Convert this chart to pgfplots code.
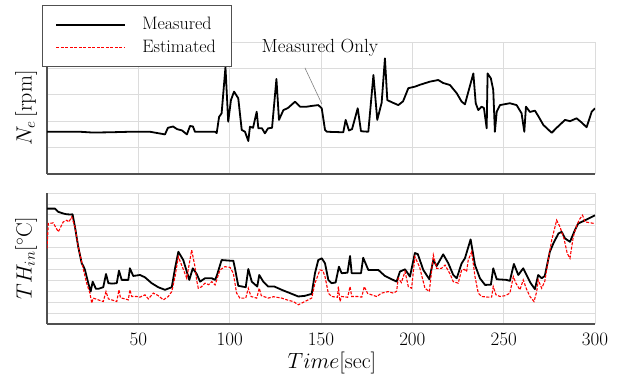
\RequirePackage{fix-cm}
\documentclass[border=0pt]{standalone}
\usepackage{fontspec}
\usepackage{pgfplots}
\pgfplotsset{compat=1.18}
\definecolor{axgray}{RGB}{80,80,80}
\definecolor{grd}{RGB}{220,220,220}
\begin{document}
\fontsize{18}{21}\selectfont
\begin{tikzpicture}[x=1pt,y=1pt]
\path (0,0) rectangle (622,372);
\pgfplotsset{
  myax/.style={
    scale only axis, width=548pt, xmin=0, xmax=300,
    axis x line=bottom, axis y line=left,
    axis line style={-, draw=axgray, line width=1.3pt},
    xtick={50,100,...,300},
    grid=major, major grid style={draw=grd, line width=0.8pt},
    major tick length=0pt,
    yticklabels={},
    clip mode=individual,
    every tick label/.append style={font=\fontsize{19}{21}\selectfont},
    every axis y label/.append style={font=\fontsize{22}{24}\selectfont},
    every axis x label/.append style={font=\fontsize{22}{24}\selectfont},
  },
  meas/.style={draw=black, line width=1.8pt, line join=round},
  est/.style={draw=red, line width=1.1pt, dash pattern=on 3pt off 1.5pt},
}
% top axis
\begin{axis}[myax, at={(47pt,198pt)}, anchor=south west, height=132pt,
  ymin=0, ymax=5, ytick={0,...,5}, xticklabels={},
  ylabel={$N_e$\,[rpm]},
  ylabel style={at={(axis description cs:-0.038,0.5)}, anchor=center},
  legend style={at={(-0.009,1.28)}, anchor=north west, draw=axgray, line width=0.8pt,
    fill=white, font=\fontsize{18}{21}\selectfont, inner xsep=13pt, inner ysep=10pt,
    row sep=3pt},
  legend cell align=left,
  legend image code/.code={\draw[#1] (0pt,0pt) -- (69pt,0pt);},
]
\addplot[meas] coordinates {
(0,1.6) (18.1,1.6) (25,1.57) (34.5,1.58) (45.4,1.6) (56.4,1.6) (64.6,1.5) (66.2,1.75) (69.0,1.8) (71.2,1.7) (73.9,1.65) (76.6,1.5) (78.3,1.82) (79.9,1.8) (81.0,1.6) (92.0,1.6) (92.9,1.55) (94.2,2.16) (95.6,2.3) (97.7,4.05) (99.2,1.98) (100.7,2.8) (102.4,3.12) (104.7,2.87) (106.6,1.67) (108.4,1.6) (110.2,1.25) (111.1,1.79) (112.8,1.75) (114.8,2.36) (115.7,1.73) (117.7,1.73) (119.3,1.54) (121.0,1.73) (123.2,1.75) (125.6,3.6) (127.0,2.05) (129.4,2.42) (131.9,2.5) (135.8,2.74) (138.5,2.55) (142.2,2.55) (145.1,2.58) (148.5,2.61) (150.4,2.49) (152.2,1.67) (153.3,1.6) (162.2,1.58) (163.5,2.05) (165.3,1.65) (167.0,1.7) (170.1,2.49) (171.9,1.62) (175.9,1.6) (178.7,3.75) (180.8,2.05) (183.2,2.7) (185.0,4.38) (186.3,2.80) (188.7,2.72) (192.3,2.61) (194.9,2.75) (197.8,3.25) (201.5,3.31) (204.2,3.38) (209.7,3.5) (214.2,3.56) (216.8,3.45) (220.6,3.37) (224.3,3.06) (227.0,2.74) (228.8,2.64) (233.4,3.81) (234.7,2.68) (236.1,2.42) (237.9,2.55) (239.2,2.5) (240.7,1.73) (241.2,3.81) (243.0,3.62) (244.3,3.18) (245.2,1.6) (246.2,2.36) (248.0,2.61) (253.4,2.68) (257.1,2.61) (259.8,2.3) (261.3,1.6) (262.2,2.55) (264.4,2.35) (267.1,2.4) (268.9,2.2) (271.7,1.86) (276.3,1.56) (279.0,1.75) (283.6,2.05) (286.3,2.0) (289.9,2.11) (292.7,1.95) (295.4,1.77) (298.2,2.36) (300,2.49)
};
\addlegendentry{\hspace*{14pt}Measured}
\addlegendimage{est}
\addlegendentry{\hspace*{14pt}Estimated}
\draw[gray, line width=0.6pt] (axis cs:141.2,4.02) -- (axis cs:150.5,2.65);
\node[font=\fontsize{19}{21}\selectfont] at (axis cs:149.4,4.78) {Measured Only};
\end{axis}
% bottom axis
\begin{axis}[myax, at={(47pt,48pt)}, anchor=south west, height=131pt,
  ymin=0, ymax=12, ytick={0,...,12},
  ylabel={$TH_{in}$[$^\circ$C]},
  ylabel style={at={(axis description cs:-0.038,0.5)}, anchor=center},
  xlabel={$Time$[sec]},
  xlabel style={at={(axis description cs:0.52,0)}, anchor=center, yshift=-39pt},
  xticklabel style={yshift=-3pt},
]
\addplot[meas] coordinates {
(0,10.57) (4.4,10.57) (6.2,10.27) (8.9,10.12) (10.8,10.05) (13.0,10.03) (14.0,10.05) (15.3,8.9) (17.1,7.07) (19.0,5.56) (19.9,5.31) (20.8,4.95) (22.6,3.74) (23.9,2.97) (25.0,3.88) (26.8,3.22) (28.1,3.22) (30.8,3.37) (32.3,4.58) (33.6,3.74) (35.6,3.7) (38.2,3.74) (39.4,4.89) (40.9,4.04) (44.5,4.04) (45.4,5.1) (47.2,4.4) (50.9,4.49) (53.6,4.28) (57.3,3.74) (60.9,3.37) (64.6,3.13) (68.3,3.37) (70.1,5.1) (71.9,6.62) (74.6,5.86) (77.9,4.04) (79.8,5.1) (81.9,4.6) (83.8,3.88) (86.5,4.19) (90.2,4.19) (92.0,4.04) (92.9,4.4) (95.6,5.86) (100.2,5.8) (102.0,5.8) (102.9,5.1) (104.7,3.5) (108.8,3.37) (110.2,5.04) (112.1,3.88) (115.1,3.43) (116.2,4.49) (118.4,3.88) (121.1,3.43) (124.5,3.43) (128.5,3.13) (133.0,2.83) (137.6,2.52) (141.2,2.58) (144.9,2.76) (146.7,4.65) (148.5,5.86) (150.4,6.02) (152.2,5.56) (154.0,4.04) (155.8,3.74) (158.0,3.8) (159.8,5.25) (161.3,4.65) (164.5,4.7) (165.9,6.23) (166.8,4.65) (171.9,4.65) (173.1,6.07) (175.9,4.95) (181.4,4.95) (185.0,4.4) (188.7,4.1) (191.4,3.88) (193.2,4.8) (196.0,5.01) (198.7,4.34) (201.4,6.5) (203.0,6.4) (206.0,4.95) (209.3,4.1) (211.5,5.86) (213.3,5.31) (216.9,6.38) (219.7,5.56) (222.4,4.49) (224.3,4.19) (227.0,5.56) (228.8,6.02) (231.9,7.75) (234.3,5.4) (237.0,4.19) (239.8,3.58) (243.0,3.6) (244.3,5.1) (246.2,4.1) (251.6,4.04) (253.4,3.95) (255.6,5.5) (258.0,4.49) (260.7,5.1) (262.5,4.5) (264.8,3.74) (267.1,3.19) (268.9,4.49) (270.8,4.19) (272.5,4.4) (275.3,6.62) (277.2,7.38) (280.0,8.3) (281.8,8.44) (283.6,7.84) (286.3,7.53) (289.0,8.6) (290.8,9.2) (295.4,9.57) (300,9.96)
};
\addplot[est] coordinates {
(0,6.93) (0.7,9.2) (3.4,9.26) (6.2,8.44) (8.9,9.35) (10.8,9.5) (12.0,9.35) (13.5,9.81) (15.3,8.9) (17.1,7.07) (19.0,5.7) (19.9,5.0) (21.7,3.74) (23.5,2.83) (24.5,1.91) (25.3,2.37) (28.1,2.21) (30.8,2.06) (32.3,2.97) (33.6,2.3) (35.6,2.2) (38.2,2.06) (39.4,3.13) (40.2,2.4) (42.7,2.3) (44.5,2.21) (45.4,3.13) (46.4,2.52) (49.0,2.52) (50.9,2.46) (53.6,2.67) (55.5,2.3) (58.2,2.83) (60.9,2.6) (63.7,2.21) (66.4,2.52) (68.3,2.97) (70.1,4.34) (71.9,6.16) (73.7,5.4) (76.5,4.19) (79.2,6.77) (81.0,5.25) (81.9,4.04) (82.8,3.28) (84.5,3.4) (86.5,3.74) (88.5,3.6) (90.2,3.88) (92.0,3.58) (94.7,4.95) (97.4,5.25) (100.2,5.19) (102.0,4.65) (103.8,2.83) (105.6,2.37) (108.8,2.37) (110.2,3.28) (111.7,2.52) (114.8,2.37) (116.2,3.28) (117.3,2.6) (121.1,2.37) (124.0,2.5) (128.5,2.37) (131.5,2.2) (134.8,2.06) (137.6,1.76) (141.2,2.06) (144.9,2.37) (146.7,3.74) (149.4,4.95) (151.0,4.9) (152.2,4.34) (154.0,2.83) (155.8,2.52) (159.0,2.45) (159.5,3.43) (160.4,2.06) (161.3,2.52) (164.6,2.45) (165.9,3.43) (166.8,2.52) (170.0,2.52) (172.3,2.46) (173.7,3.43) (175.5,2.8) (177.7,2.67) (180.5,2.52) (183.2,2.83) (186.8,2.97) (189.6,2.83) (191.4,3.0) (192.3,4.19) (194.0,3.8) (196.0,4.8) (197.8,3.43) (199.6,3.28) (201.4,6.16) (204.0,5.2) (206.9,3.28) (209.3,2.97) (211.5,6.32) (213.3,5.1) (216.0,5.1) (217.9,5.4) (220.6,4.6) (222.4,3.88) (225.1,3.74) (227.0,4.95) (228.5,5.0) (229.7,4.8) (230.6,5.86) (232.5,6.62) (234.3,4.34) (236.1,2.83) (237.9,2.52) (241.6,2.46) (243.4,2.46) (244.3,3.43) (245.8,2.67) (248.0,2.52) (251.0,2.6) (253.4,2.83) (255.3,4.34) (256.7,3.74) (258.9,3.13) (260.7,4.04) (262.5,3.2) (264.4,2.52) (266.6,2.06) (268.1,2.97) (268.9,4.04) (270.8,3.28) (272.5,3.9) (274.4,5.86) (276.3,7.68) (279.0,9.51) (280.8,8.9) (283.0,7.84) (284.8,6.47) (286.3,6.02) (288.1,7.99) (290.0,9.05) (291.8,9.66) (293.2,9.96) (294.5,9.35) (300,9.2)
};
\end{axis}
\end{tikzpicture}
\end{document}
